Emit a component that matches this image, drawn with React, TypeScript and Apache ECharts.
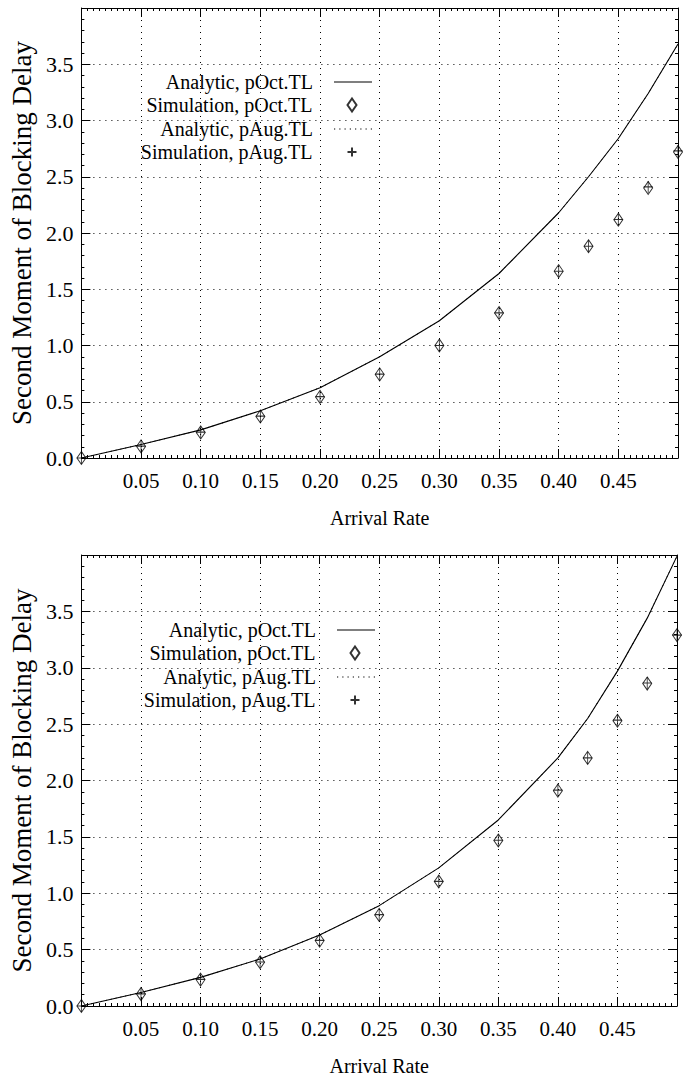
import React, { useEffect, useRef } from 'react';
import * as echarts from 'echarts';

// Arrival rates (x values) shared by both panels
const arrivalRates = [0, 0.05, 0.1, 0.15, 0.2, 0.25, 0.3, 0.35, 0.4, 0.425, 0.45, 0.475, 0.5];

// Top panel
const topAnalyticOct = [0, 0.12, 0.25, 0.42, 0.625, 0.9, 1.22, 1.64, 2.18, 2.5, 2.84, 3.24, 3.68];
const topAnalyticAug = [0, 0.12, 0.25, 0.42, 0.625, 0.9, 1.22, 1.64, 2.18, 2.5, 2.84, 3.24, 3.68];
const topSimOct = [0, 0.103, 0.227, 0.369, 0.543, 0.743, 1.0, 1.289, 1.661, 1.882, 2.118, 2.4, 2.72];
const topSimAug = [0, 0.105, 0.23, 0.372, 0.545, 0.745, 1.0, 1.29, 1.66, 1.882, 2.12, 2.41, 2.73];

// Bottom panel
const bottomAnalyticOct = [0, 0.12, 0.254, 0.417, 0.63, 0.89, 1.225, 1.65, 2.2, 2.55, 2.97, 3.44, 3.99];
const bottomAnalyticAug = [0, 0.12, 0.254, 0.417, 0.63, 0.89, 1.225, 1.65, 2.2, 2.55, 2.97, 3.44, 3.99];
const bottomSimOct = [0, 0.106, 0.234, 0.388, 0.58, 0.808, 1.104, 1.468, 1.91, 2.2, 2.53, 2.86, 3.29];
const bottomSimAug = [0, 0.108, 0.236, 0.39, 0.582, 0.81, 1.105, 1.47, 1.915, 2.2, 2.535, 2.865, 3.29];

const legendNames = ['Analytic, pOct.TL', 'Simulation, pOct.TL', 'Analytic, pAug.TL', 'Simulation, pAug.TL'];
const xAxisTitle = 'Arrival Rate';
const yAxisTitle = 'Second Moment of Blocking Delay';

const FONT = '"Liberation Serif", "Times New Roman", serif';
const BLACK = '#000';
const PLUS_PATH = 'path://M5,0L5,10M0,5L10,5';
const SOLID_ICON = 'path://M0,0h38v1h-38z';
const DOTTED_ICON =
  'path://' + [0, 1, 2, 3, 4, 5, 6, 7].map((k) => `M${k * 5.2},0h1.2v1h-1.2z`).join('');

const pair = (ys: number[]) => arrivalRates.map((x, i) => [x, ys[i]]);

function buildPanel(idx: number, anOct: number[], anAug: number[], simOct: number[], simAug: number[]) {
  const xMain = 2 * idx;
  const yMain = 2 * idx;
  return [
    {
      name: legendNames[2], type: 'line', xAxisIndex: xMain, yAxisIndex: yMain,
      data: pair(anAug), symbol: 'none', z: 2,
      lineStyle: { color: BLACK, width: 1, type: [1, 4] }, itemStyle: { color: BLACK },
    },
    {
      name: legendNames[0], type: 'line', xAxisIndex: xMain, yAxisIndex: yMain,
      data: pair(anOct), symbol: 'none', z: 3,
      lineStyle: { color: BLACK, width: 1.1 }, itemStyle: { color: BLACK },
    },
    {
      name: legendNames[1], type: 'scatter', xAxisIndex: xMain, yAxisIndex: yMain,
      data: pair(simOct), symbol: 'diamond', symbolSize: [9, 13], z: 4,
      itemStyle: { color: 'rgba(0,0,0,0)', borderColor: BLACK, borderWidth: 1 },
    },
    {
      name: legendNames[3], type: 'scatter', xAxisIndex: xMain, yAxisIndex: yMain,
      data: pair(simAug), symbol: PLUS_PATH, symbolSize: [9, 12], z: 5,
      itemStyle: { color: 'rgba(0,0,0,0)', borderColor: BLACK, borderWidth: 1 },
    },
  ];
}

function xAxes(gridIndex: number) {
  const common = {
    type: 'value', gridIndex, min: 0, max: 0.5, interval: 0.05,
    axisLine: { show: true, onZero: false, lineStyle: { color: BLACK, width: 1 } },
    axisTick: { show: true, inside: true, length: 9, lineStyle: { color: BLACK } },
    minorTick: { show: true, splitNumber: 10, length: 3, lineStyle: { color: BLACK } },
  };
  return [
    {
      ...common, position: 'bottom',
      splitLine: { show: true, lineStyle: { color: BLACK, type: [1, 5], width: 1 } },
      axisLabel: {
        showMinLabel: false, showMaxLabel: false, margin: 12,
        formatter: (v: number) => v.toFixed(2), fontSize: 21, fontFamily: FONT, color: BLACK,
      },
      name: xAxisTitle, nameLocation: 'middle', nameGap: 50,
      nameTextStyle: { fontSize: 20, fontFamily: FONT, color: BLACK },
    },
    {
      ...common, position: 'top',
      splitLine: { show: false }, axisLabel: { show: false },
    },
  ];
}

function yAxes(gridIndex: number) {
  const common = {
    type: 'value', gridIndex, min: 0, max: 4, interval: 0.5,
    axisLine: { show: true, onZero: false, lineStyle: { color: BLACK, width: 1 } },
    axisTick: { show: true, inside: true, length: 9, lineStyle: { color: BLACK } },
    minorTick: { show: true, splitNumber: 5, length: 3, lineStyle: { color: BLACK } },
  };
  return [
    {
      ...common, position: 'left',
      splitLine: { show: true, lineStyle: { color: BLACK, type: [1, 5], width: 1 } },
      axisLabel: {
        showMaxLabel: false, margin: 8,
        formatter: (v: number) => v.toFixed(1), fontSize: 22, fontFamily: FONT, color: BLACK,
      },
      name: yAxisTitle, nameLocation: 'middle', nameGap: 44, nameRotate: 90,
      nameTextStyle: { fontSize: 27, fontFamily: FONT, color: BLACK },
    },
    {
      ...common, position: 'right',
      splitLine: { show: false }, axisLabel: { show: false },
    },
  ];
}

// icon geometry for each legend row: [icon, width, height, gap text->icon]
const legendIcons: [string, number, number, number][] = [
  [SOLID_ICON, 38, 1.5, 16],
  ['diamond', 9, 13, 30],
  [DOTTED_ICON, 38, 1.5, 16],
  [PLUS_PATH, 9, 12, 30],
];

function legends(rowCenters: number[], iconRight: number) {
  return legendNames.map((n, i) => {
    const [icon, w, h, gap] = legendIcons[i];
    const right = w > 20 ? iconRight : iconRight - 14.5;
    return {
      data: [{ name: n, icon }], orient: 'horizontal', align: 'right',
      right: 689 - right, top: rowCenters[i] - 10,
      itemWidth: w, itemHeight: h, padding: 0, selectedMode: false,
      textStyle: { fontSize: 20, fontFamily: FONT, color: BLACK, padding: [0, gap, 0, 0] },
    };
  });
}

export default function App() {
  const ref = useRef<HTMLDivElement>(null);
  useEffect(() => {
    if (!ref.current) return;
    const chart = echarts.init(ref.current, undefined, { renderer: 'svg' });
    chart.setOption({
      animation: false,
      backgroundColor: '#fff',
      grid: [
        { left: 79, right: 11, top: 8, height: 450 },
        { left: 80, right: 12, top: 555, height: 451 },
      ],
      xAxis: [...xAxes(0), ...xAxes(1)],
      yAxis: [...yAxes(0), ...yAxes(1)],
      legend: [
        ...legends([82, 105, 129, 152], 372),
        ...legends([630, 653, 677, 700], 375),
      ],
      series: [
        ...buildPanel(0, topAnalyticOct, topAnalyticAug, topSimOct, topSimAug),
        ...buildPanel(1, bottomAnalyticOct, bottomAnalyticAug, bottomSimOct, bottomSimAug),
      ],
    });
    return () => chart.dispose();
  }, []);
  return (
    <div
      ref={ref}
      style={{ position: 'fixed', left: 0, top: 0, width: 689, height: 1082, background: '#fff' }}
    />
  );
}
